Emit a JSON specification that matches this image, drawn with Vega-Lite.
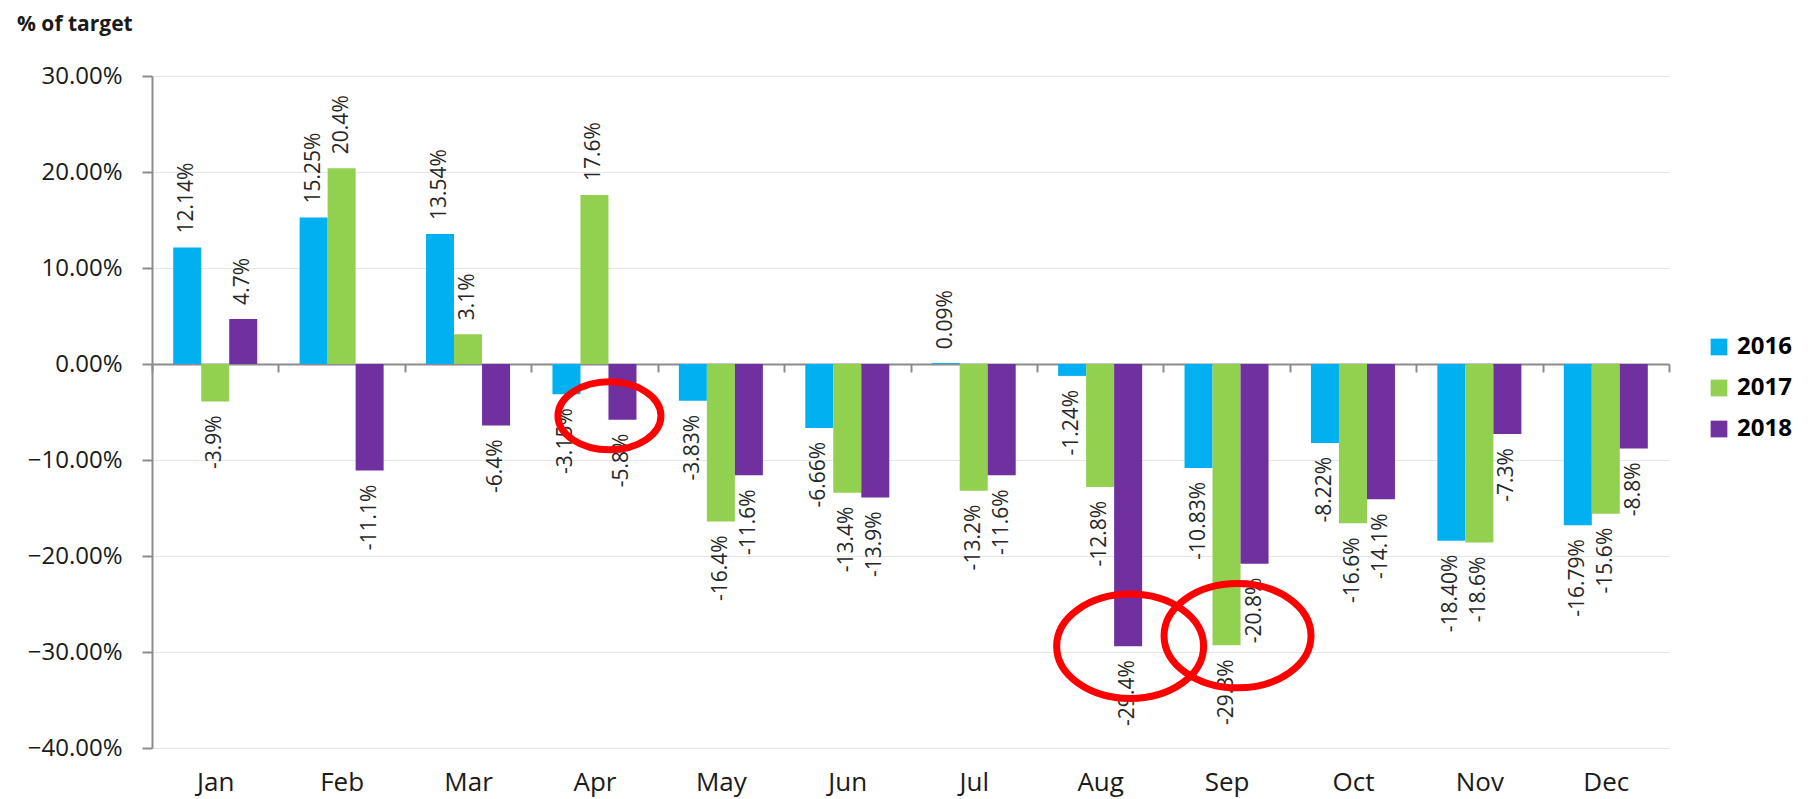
{
  "$schema": "https://vega.github.io/schema/vega-lite/v6.json",
  "width": 1517,
  "height": 672,
  "autosize": {"type": "none"},
  "padding": {"left": 152, "top": 76, "right": 139, "bottom": 51},
  "background": "white",
  "title": {"text": "% of target", "anchor": "start", "frame": "group", "dx": -135, "offset": 12, "baseline": "alphabetic", "font": "Open Sans", "fontSize": 21, "fontWeight": "bold", "color": "#1a1a1a"},
  "config": {"view": {"stroke": null}},
  "datasets": {
    "bars": [
      {"month": "Jan", "year": "2016", "value": 12.14, "label": "12.14%"},
      {"month": "Feb", "year": "2016", "value": 15.25, "label": "15.25%"},
      {"month": "Mar", "year": "2016", "value": 13.54, "label": "13.54%"},
      {"month": "Apr", "year": "2016", "value": -3.15, "label": "-3.15%"},
      {"month": "May", "year": "2016", "value": -3.83, "label": "-3.83%"},
      {"month": "Jun", "year": "2016", "value": -6.66, "label": "-6.66%"},
      {"month": "Jul", "year": "2016", "value": 0.09, "label": "0.09%"},
      {"month": "Aug", "year": "2016", "value": -1.24, "label": "-1.24%"},
      {"month": "Sep", "year": "2016", "value": -10.83, "label": "-10.83%"},
      {"month": "Oct", "year": "2016", "value": -8.22, "label": "-8.22%"},
      {"month": "Nov", "year": "2016", "value": -18.40, "label": "-18.40%"},
      {"month": "Dec", "year": "2016", "value": -16.79, "label": "-16.79%"},
      {"month": "Jan", "year": "2017", "value": -3.9, "label": "-3.9%"},
      {"month": "Feb", "year": "2017", "value": 20.4, "label": "20.4%"},
      {"month": "Mar", "year": "2017", "value": 3.1, "label": "3.1%"},
      {"month": "Apr", "year": "2017", "value": 17.6, "label": "17.6%"},
      {"month": "May", "year": "2017", "value": -16.4, "label": "-16.4%"},
      {"month": "Jun", "year": "2017", "value": -13.4, "label": "-13.4%"},
      {"month": "Jul", "year": "2017", "value": -13.2, "label": "-13.2%"},
      {"month": "Aug", "year": "2017", "value": -12.8, "label": "-12.8%"},
      {"month": "Sep", "year": "2017", "value": -29.3, "label": "-29.3%"},
      {"month": "Oct", "year": "2017", "value": -16.6, "label": "-16.6%"},
      {"month": "Nov", "year": "2017", "value": -18.6, "label": "-18.6%"},
      {"month": "Dec", "year": "2017", "value": -15.6, "label": "-15.6%"},
      {"month": "Jan", "year": "2018", "value": 4.7, "label": "4.7%"},
      {"month": "Feb", "year": "2018", "value": -11.1, "label": "-11.1%"},
      {"month": "Mar", "year": "2018", "value": -6.4, "label": "-6.4%"},
      {"month": "Apr", "year": "2018", "value": -5.8, "label": "-5.8%"},
      {"month": "May", "year": "2018", "value": -11.6, "label": "-11.6%"},
      {"month": "Jun", "year": "2018", "value": -13.9, "label": "-13.9%"},
      {"month": "Jul", "year": "2018", "value": -11.6, "label": "-11.6%"},
      {"month": "Aug", "year": "2018", "value": -29.4, "label": "-29.4%"},
      {"month": "Sep", "year": "2018", "value": -20.8, "label": "-20.8%"},
      {"month": "Oct", "year": "2018", "value": -14.1, "label": "-14.1%"},
      {"month": "Nov", "year": "2018", "value": -7.3, "label": "-7.3%"},
      {"month": "Dec", "year": "2018", "value": -8.8, "label": "-8.8%"}
    ],
    "marks": [
      {"month": "Apr", "value": -5.4},
      {"month": "Aug", "value": -29.4},
      {"month": "Sep", "value": -28.3}
    ]
  },
  "data": {"name": "bars"},
  "layer": [
    {
      "mark": {"type": "bar"},
      "encoding": {
        "x": {
          "field": "month", "type": "nominal",
          "sort": ["Jan","Feb","Mar","Apr","May","Jun","Jul","Aug","Sep","Oct","Nov","Dec"],
          "scale": {"paddingInner": 0, "paddingOuter": 0},
          "axis": {"title": null, "offset": -384, "domainColor": "#8c8c8c", "domainWidth": 2, "tickBand": "extent", "tickSize": 8, "tickColor": "#8c8c8c", "tickWidth": 2, "labelAngle": 0, "labelBaseline": "alphabetic", "labelPadding": 418, "labelFont": "Open Sans", "labelFontSize": 26, "labelColor": "#1a1a1a", "grid": false}
        },
        "xOffset": {"field": "year", "type": "nominal", "scale": {"paddingInner": 0, "paddingOuter": 0.757}},
        "y": {
          "field": "value", "type": "quantitative",
          "scale": {"domain": [-40, 30], "nice": false},
          "axis": {"title": null, "values": [-40, -30, -20, -10, 0, 10, 20, 30], "labelExpr": "format(datum.value, '.2f') + '%'", "grid": true, "gridColor": "#e6e6e6", "gridWidth": 1, "domainColor": "#8c8c8c", "domainWidth": 2, "tickColor": "#8c8c8c", "tickSize": 10, "tickWidth": 2, "labelPadding": 20, "labelFont": "Open Sans", "labelFontSize": 24, "labelColor": "#1a1a1a"}
        },
        "color": {
          "field": "year", "type": "nominal",
          "scale": {"domain": ["2016", "2017", "2018"], "range": ["#00b0f0", "#92d050", "#7030a0"]},
          "legend": {"orient": "none", "legendX": 1555, "legendY": 259, "title": null, "symbolType": "square", "symbolSize": 280, "symbolStrokeWidth": 0, "labelFont": "Open Sans", "labelFontSize": 24, "labelFontWeight": "bold", "labelColor": "#000000", "rowPadding": 17, "labelOffset": 6}
        }
      }
    },
    {
      "transform": [{"filter": "datum.value >= 0"}],
      "mark": {"type": "text", "angle": 270, "align": "left", "baseline": "middle", "dx": 14, "font": "Open Sans", "fontSize": 21, "color": "#262626"},
      "encoding": {
        "x": {"field": "month", "type": "nominal", "sort": ["Jan","Feb","Mar","Apr","May","Jun","Jul","Aug","Sep","Oct","Nov","Dec"]},
        "xOffset": {"field": "year", "type": "nominal"},
        "y": {"field": "value", "type": "quantitative"},
        "text": {"field": "label"}
      }
    },
    {
      "transform": [{"filter": "datum.value < 0"}],
      "mark": {"type": "text", "angle": 270, "align": "right", "baseline": "middle", "dx": -14, "font": "Open Sans", "fontSize": 21, "color": "#262626"},
      "encoding": {
        "x": {"field": "month", "type": "nominal", "sort": ["Jan","Feb","Mar","Apr","May","Jun","Jul","Aug","Sep","Oct","Nov","Dec"]},
        "xOffset": {"field": "year", "type": "nominal"},
        "y": {"field": "value", "type": "quantitative"},
        "text": {"field": "label"}
      }
    },
    {
      "data": {"name": "marks"},
      "transform": [{"filter": "datum.month == 'Apr'"}],
      "mark": {"type": "point", "shape": "M-1,0A1,0.66,0,1,0,1,0A1,0.66,0,1,0,-1,0Z", "filled": false, "color": "#ff0000", "stroke": "#ff0000", "strokeWidth": 7, "size": 10609, "xOffset": 15, "opacity": 1},
      "encoding": {
        "x": {"field": "month", "type": "nominal", "sort": ["Jan","Feb","Mar","Apr","May","Jun","Jul","Aug","Sep","Oct","Nov","Dec"]},
        "y": {"field": "value", "type": "quantitative"}
      }
    },
    {
      "data": {"name": "marks"},
      "transform": [{"filter": "datum.month == 'Aug'"}],
      "mark": {"type": "point", "shape": "M-1,0A1,0.71,0,1,0,1,0A1,0.71,0,1,0,-1,0Z", "filled": false, "color": "#ff0000", "stroke": "#ff0000", "strokeWidth": 7, "size": 21600, "xOffset": 30, "opacity": 1},
      "encoding": {
        "x": {"field": "month", "type": "nominal", "sort": ["Jan","Feb","Mar","Apr","May","Jun","Jul","Aug","Sep","Oct","Nov","Dec"]},
        "y": {"field": "value", "type": "quantitative"}
      }
    },
    {
      "data": {"name": "marks"},
      "transform": [{"filter": "datum.month == 'Sep'"}],
      "mark": {"type": "point", "shape": "M-1,0A1,0.71,0,1,0,1,0A1,0.71,0,1,0,-1,0Z", "filled": false, "color": "#ff0000", "stroke": "#ff0000", "strokeWidth": 7, "size": 21600, "xOffset": 11, "opacity": 1},
      "encoding": {
        "x": {"field": "month", "type": "nominal", "sort": ["Jan","Feb","Mar","Apr","May","Jun","Jul","Aug","Sep","Oct","Nov","Dec"]},
        "y": {"field": "value", "type": "quantitative"}
      }
    }
  ]
}
